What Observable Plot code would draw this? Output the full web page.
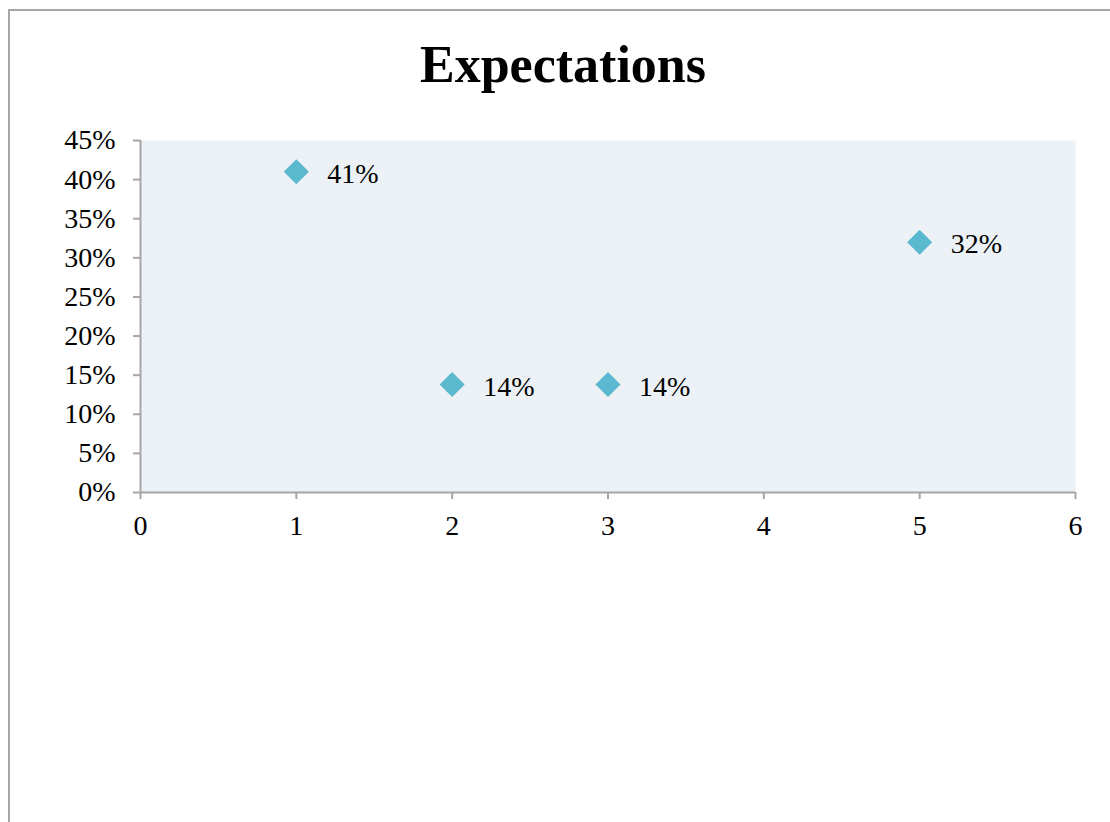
<!DOCTYPE html>
<html>
<head>
<meta charset="utf-8">
<script src="https://cdn.jsdelivr.net/npm/d3@7"></script>
<script src="https://cdn.jsdelivr.net/npm/@observablehq/plot@0.6"></script>
<style>
  html, body { margin: 0; padding: 0; background: #fff; }
  #wrap { position: relative; width: 1110px; height: 822px; overflow: hidden; }
  #border { position: absolute; left: 8px; top: 9px; width: 1200px; height: 900px;
            border-left: 2px solid #a6a6a6; border-top: 2px solid #a6a6a6; box-sizing: border-box; }
  #title { position: absolute; left: 8px; width: 1110px; top: 35px; text-align: center;
           font-family: "Liberation Serif", serif; font-weight: bold; font-size: 52px; color: #000; }
  #chart { position: absolute; left: 0; top: 0; }
</style>
</head>
<body>
<div id="wrap">
  <div id="border"></div>
  <div id="title">Expectations</div>
  <div id="chart"></div>
</div>
<script>
const xValues = [1, 2, 3, 5];
const yValues = [0.41, 0.138, 0.138, 0.32];
const pointLabels = ["41%", "14%", "14%", "32%"];
const xTicks = [0, 1, 2, 3, 4, 5, 6];
const yTicks = [0, 0.05, 0.10, 0.15, 0.20, 0.25, 0.30, 0.35, 0.40, 0.45];

const data = xValues.map((x, i) => ({x, y: yValues[i], label: pointLabels[i]}));
const axisColor = "#a6a6a6";

const chart = Plot.plot({
  width: 1110,
  height: 822,
  marginLeft: 140,
  marginRight: 35,
  marginTop: 140,
  marginBottom: 330,
  style: {fontFamily: "'Liberation Serif', serif", fontSize: "28px", color: "#000", background: "transparent"},
  x: {domain: [0, 6], label: null},
  y: {domain: [0, 0.45], label: null},
  marks: [
    Plot.frame({fill: "#ecf1f6", stroke: null}),
    Plot.axisX({ticks: xTicks, tickSize: 7, tickPadding: 16, stroke: axisColor, strokeWidth: 2, strokeOpacity: 1, fill: "#000", fontSize: 28, label: null, tickFormat: d => String(d)}),
    Plot.axisY({ticks: yTicks, tickSize: 7, tickPadding: 18, stroke: axisColor, strokeWidth: 2, strokeOpacity: 1, fill: "#000", fontSize: 28, label: null, tickFormat: d3.format(".0%")}),
    Plot.ruleY([0], {stroke: axisColor, strokeWidth: 2}),
    Plot.ruleX([0], {stroke: axisColor, strokeWidth: 2}),
    Plot.dot(data, {x: "x", y: "y", symbol: "diamond2", r: 11.3, fill: "#5ab8cf", stroke: null}),
    Plot.text(data, {x: "x", y: "y", text: "label", dx: 31, dy: 2, textAnchor: "start", fontSize: 28, fill: "#000"})
  ]
});
document.getElementById("chart").appendChild(chart);
</script>
</body>
</html>
